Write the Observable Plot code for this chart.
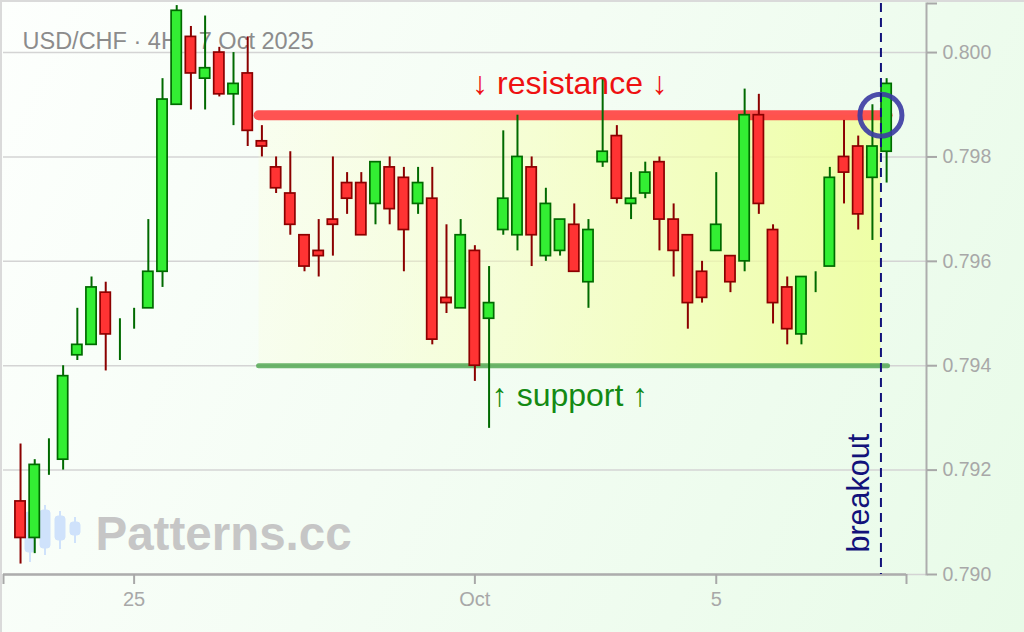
<!DOCTYPE html>
<html><head><meta charset="utf-8">
<script src="https://cdn.jsdelivr.net/npm/d3@7"></script>
<script src="https://cdn.jsdelivr.net/npm/@observablehq/plot@0.6"></script>
<style>
html,body{margin:0;padding:0;}
body{width:1024px;height:632px;overflow:hidden;font-family:'Liberation Sans',Arial,sans-serif;}
#wrap{position:relative;width:1024px;height:632px;background:linear-gradient(115deg,#fdfffd 0%,#f4fdf4 45%,#e8fbe8 100%);}
#icon{position:absolute;left:0;top:0;}
#chart{position:absolute;left:0;top:0;}
#chart svg{display:block;}
#border{position:absolute;left:0;top:0;width:1024px;height:632px;box-sizing:border-box;border-top:2px solid #dadada;border-left:2px solid #dadada;pointer-events:none;}
</style></head><body>
<div id="wrap">
<svg id="icon" width="120" height="600">
  <g fill="#cfe2fb" stroke="#cfe2fb">
    <line x1="30" x2="30" y1="505" y2="562" stroke-width="2"/><rect x="25" y="512" width="10" height="40" rx="3"/>
    <line x1="45" x2="45" y1="505" y2="555" stroke-width="2"/><rect x="40" y="510" width="10" height="38" rx="3"/>
    <line x1="60" x2="60" y1="511" y2="549" stroke-width="2"/><rect x="55" y="516" width="10" height="24" rx="3"/>
    <line x1="75" x2="75" y1="517" y2="543" stroke-width="2"/><rect x="70" y="522" width="10" height="13" rx="3"/>
  </g>
</svg>
<div id="chart"></div>
<div id="border"></div>
</div>
<script>
// ---- data (4H candles, USD/CHF) ----
const opens  = [0.7914,0.7907,0.7922,0.7922,0.7942,0.7944,0.7954,0.7945,0.7949,0.7951,
                0.7958,0.7990,0.8003,0.7995,0.8000,0.7992,0.7996,0.7983,0.7978,0.7973,
                0.7965,0.7962,0.7968,0.7975,0.7975,0.7971,0.7978,0.7976,0.7971,0.7972,
                0.7953,0.7951,0.7962,0.7949,0.7966,0.7965,0.7978,0.7961,0.7962,0.7967,
                0.7956,0.7979,0.7984,0.7971,0.7973,0.7979,0.7968,0.7965,0.7958,0.7962,
                0.7961,0.7960,0.7988,0.7966,0.7955,0.7946,0.7956,0.7959,0.7980,0.7982,
                0.7976,0.7981];
const highs  = [0.7925,0.7922,0.7926,0.7940,0.7951,0.7957,0.7956,0.7949,0.7951,0.7968,
                0.7995,0.8009,0.8005,0.8007,0.8001,0.8000,0.8003,0.7986,0.7980,0.7981,
                0.7965,0.7968,0.7980,0.7977,0.7977,0.7979,0.7980,0.7978,0.7978,0.7978,
                0.7967,0.7968,0.7963,0.7959,0.7985,0.7988,0.7980,0.7974,0.7968,0.7971,
                0.7968,0.7995,0.7986,0.7977,0.7979,0.7980,0.7971,0.7965,0.7960,0.7977,
                0.7961,0.7993,0.7992,0.7967,0.7957,0.7957,0.7958,0.7978,0.7987,0.7984,
                0.7990,0.7995];
const lows   = [0.7902,0.7904,0.7919,0.7920,0.7941,0.7944,0.7939,0.7941,0.7947,0.7951,
                0.7955,0.7990,0.7989,0.7989,0.79915,0.7986,0.7982,0.7980,0.7973,0.7965,
                0.7958,0.7957,0.7961,0.7969,0.7965,0.7967,0.7967,0.7958,0.7969,0.7944,
                0.7950,0.7951,0.7937,0.7928,0.7965,0.7962,0.7959,0.7960,0.7961,0.7958,
                0.7951,0.7978,0.7971,0.7968,0.7972,0.7962,0.7957,0.7947,0.7952,0.7962,
                0.7954,0.7958,0.7969,0.7948,0.7944,0.7944,0.7954,0.7959,0.7971,0.7966,
                0.7964,0.7975];
const closes = [0.7907,0.7921,0.7922,0.7938,0.7944,0.7955,0.7946,0.7945,0.7949,0.7958,
                0.7991,0.8008,0.7996,0.7997,0.7992,0.7994,0.7985,0.7982,0.7974,0.7967,
                0.7959,0.7961,0.7967,0.7972,0.7965,0.7979,0.7970,0.7966,0.7975,0.7945,
                0.7952,0.7965,0.7940,0.7952,0.7972,0.7980,0.7965,0.7971,0.7968,0.7958,
                0.7966,0.7981,0.7972,0.7972,0.7977,0.7968,0.7962,0.7952,0.7953,0.7967,
                0.7956,0.7988,0.7971,0.7952,0.7947,0.7957,0.7956,0.7976,0.7977,0.7969,
                0.7982,0.7994];
const xTickIndex  = [8, 32, 49];
const xTickLabels = ["25", "Oct", "5"];
const yTicks = [0.790, 0.792, 0.794, 0.796, 0.798, 0.800];
const resistance = 0.7988;
const support = 0.7940;
const zoneStart = 16.8;
const breakoutIndex = 60.6;
const lineEnd = 61.1;
const titleText = "USD/CHF · 4H · 7 Oct 2025";

// ---- build ----
const candles = opens.map((o, i) => ({i, open: o, high: highs[i], low: lows[i], close: closes[i]}));
const up = candles.filter(d => d.close >= d.open);
const down = candles.filter(d => d.close < d.open);
const xDomain = [-1.2, 62.4];
const yDomain = [0.790, 0.80094];
const xTicks = [xDomain[0], ...xTickIndex, xDomain[1]];
const xLab = new Map(xTickIndex.map((v, k) => [v, xTickLabels[k]]));
const yAxisTicks = [...yTicks, yDomain[1]];
const zone = [{x1: zoneStart, x2: breakoutIndex, y1: support, y2: resistance}];
const labelX = (zoneStart + breakoutIndex) / 2;
const FONT = "'Liberation Sans', Arial, Helvetica, sans-serif";

const plot = Plot.plot({
  width: 1024, height: 632,
  marginTop: 3, marginBottom: 58, marginLeft: 3, marginRight: 98,
  style: {background: "transparent", fontFamily: FONT},
  x: {domain: xDomain, range: [3, 906]},
  y: {domain: yDomain},
  marks: [
    Plot.gridY(yTicks, {stroke: "#d4d4d4", strokeOpacity: 1, strokeWidth: 1.5}),
    Plot.rect(zone, {x1: "x1", x2: "x2", y1: "y1", y2: "y2", fill: "url(#zoneGrad)"}),
    Plot.text([titleText], {frameAnchor: "top-left", lineAnchor: "middle", dx: 19, dy: 38, textAnchor: "start", fill: "#8c8c8c", fontSize: 23.5}),
    Plot.text(["Patterns.cc"], {frameAnchor: "bottom-left", lineAnchor: "middle", dx: 92, dy: -40, textAnchor: "start", fill: "#c6c6c6", fontSize: 47.5, fontWeight: "bold"}),
    Plot.ruleY([resistance], {x1: zoneStart, x2: lineEnd, stroke: "#ff4040", strokeOpacity: 0.9, strokeWidth: 10, strokeLinecap: "round"}),
    Plot.ruleY([support], {x1: zoneStart, x2: lineEnd, stroke: "#55a955", strokeOpacity: 0.85, strokeWidth: 5, strokeLinecap: "round"}),
    // x axis line and ticks
    Plot.ruleY([yDomain[0]], {x1: xDomain[0], x2: xDomain[1], stroke: "#adadad", strokeWidth: 2.5}),
    Plot.axisX(xTicks, {anchor: "bottom", tickSize: 10, tickPadding: 7, tickFormat: d => xLab.get(d) ?? "", color: "#a8a8a8", fontSize: 20, strokeWidth: 2}),
    // y axis
    Plot.frame({anchor: "right", stroke: "#adadad", strokeWidth: 2}),
    Plot.axisY(yAxisTicks, {anchor: "right", tickSize: 10, tickPadding: 6, tickFormat: d => d === yDomain[1] ? "" : d3.format(".3f")(d), color: "#a8a8a8", fontSize: 19.5, strokeWidth: 2}),
    // candles
    Plot.ruleX(up, {x: "i", y1: "low", y2: "high", stroke: "#006a00", strokeWidth: 2}),
    Plot.ruleX(down, {x: "i", y1: "low", y2: "high", stroke: "#8b0000", strokeWidth: 2}),
    Plot.rect(up, {x1: d => d.i - 0.36, x2: d => d.i + 0.36, y1: "open", y2: "close", fill: "#33ee33", stroke: "#006a00", strokeWidth: 1.7}),
    Plot.rect(down, {x1: d => d.i - 0.36, x2: d => d.i + 0.36, y1: "open", y2: "close", fill: "#ff3333", stroke: "#8b0000", strokeWidth: 1.7}),
    // annotations
    Plot.text(["↓ resistance ↓"], {x: labelX, y: resistance, dy: -31, fill: "#ee1111", fontSize: 32}),
    Plot.text(["↑ support ↑"], {x: labelX, y: support, dy: 30, fill: "#138a13", fontSize: 32}),
    Plot.dot([{x: breakoutIndex, y: resistance}], {x: "x", y: "y", r: 21, stroke: "#3a3aa2", strokeOpacity: 0.9, strokeWidth: 5, fill: "none"}),
    Plot.ruleX([breakoutIndex], {stroke: "#12127a", strokeWidth: 2, strokeDasharray: "9,6"}),
    Plot.text(["breakout"], {x: breakoutIndex, frameAnchor: "bottom", lineAnchor: "middle", dx: -22, dy: -22, rotate: -90, textAnchor: "start", fill: "#12127a", fontSize: 30.5})
  ]
});

d3.select(plot).insert("defs", ":first-child").html(
  '<linearGradient id="zoneGrad" x1="0" x2="1" y1="0" y2="0">' +
  '<stop offset="0" stop-color="#fbffcc" stop-opacity="0.2"/>' +
  '<stop offset="0.5" stop-color="#f6ffb0" stop-opacity="0.55"/>' +
  '<stop offset="1" stop-color="#eeff99" stop-opacity="0.85"/>' +
  '</linearGradient>');

document.getElementById("chart").appendChild(plot);
</script>
</body></html>
